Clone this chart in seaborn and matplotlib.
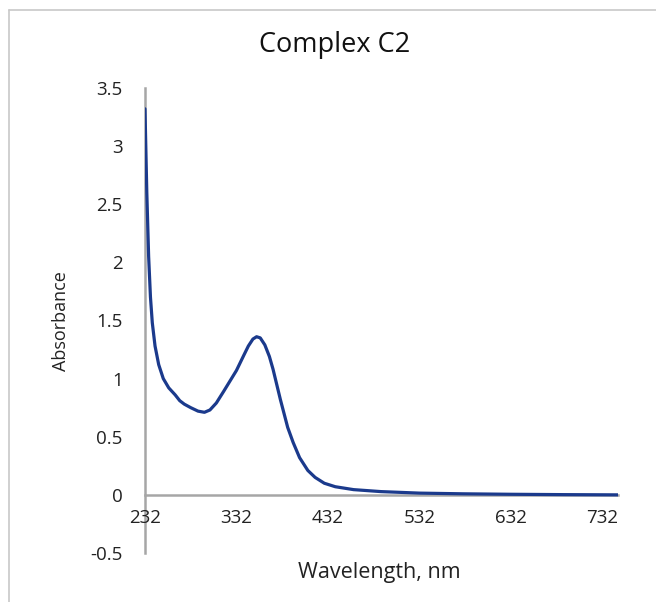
import pandas as pd
import matplotlib.pyplot as plt
import seaborn as sns
from matplotlib.lines import Line2D

# UV-Vis spectrum values
wavelength = [232, 234, 236, 238, 240, 243, 247, 252, 258, 265, 270, 275, 282,
              290, 297, 303, 310, 318, 325, 332, 340, 345, 350, 354, 358, 363,
              368, 372, 376, 380, 384, 388, 394, 401, 410, 418, 428, 440, 460,
              490, 532, 580, 632, 690, 749]
absorbance = [3.32, 2.60, 2.05, 1.70, 1.48, 1.28, 1.12, 1.00, 0.92, 0.86, 0.81,
              0.78, 0.75, 0.72, 0.71, 0.73, 0.79, 0.89, 0.98, 1.07, 1.20, 1.28,
              1.34, 1.36, 1.35, 1.29, 1.19, 1.08, 0.95, 0.82, 0.70, 0.58, 0.45,
              0.32, 0.21, 0.15, 0.10, 0.07, 0.045, 0.028, 0.015, 0.009, 0.005,
              0.002, 0.0]
x_ticks = [232, 332, 432, 532, 632, 732]
y_ticks = [-0.5, 0, 0.5, 1, 1.5, 2, 2.5, 3, 3.5]
y_labels = ['-0.5', '0', '0.5', '1', '1.5', '2', '2.5', '3', '3.5']

df = pd.DataFrame({'Wavelength': wavelength, 'Absorbance': absorbance})

sns.set_style('white')
plt.rcParams['font.family'] = ['Open Sans', 'DejaVu Sans']

fig = plt.figure(figsize=(6.56, 6.02), dpi=100)
ax = fig.add_axes([0.221, 0.0814, 0.721, 0.7726])

sns.lineplot(data=df, x='Wavelength', y='Absorbance', ax=ax,
             color='#1b3a8c', linewidth=2.3)

ax.set_xlim(232, 749)
ax.set_ylim(-0.5, 3.5)
ax.set_xticks(x_ticks)
ax.set_yticks(y_ticks)
ax.set_yticklabels(y_labels)
ax.tick_params(axis='both', length=0, labelsize=13.5, colors='#222222')
ax.tick_params(axis='y', pad=16)
ax.tick_params(axis='x', pad=10)

for s in ['top', 'right']:
    ax.spines[s].set_visible(False)
ax.spines['bottom'].set_position(('data', 0))
ax.spines['left'].set_color('#a6a6a6')
ax.spines['bottom'].set_color('#a6a6a6')
ax.spines['left'].set_linewidth(1.8)
ax.spines['bottom'].set_linewidth(1.8)
ax.spines['left'].set_zorder(0)
ax.spines['bottom'].set_zorder(0)

ax.set_xlabel('')
ax.set_ylabel('')
fig.text(0.578, 0.049, 'Wavelength, nm', ha='center', va='center',
         fontsize=15.5, color='#222222')
fig.text(0.093, 0.467, 'Absorbance', ha='center', va='center',
         rotation=90, fontsize=13, color='#222222')
fig.text(0.51, 0.925, 'Complex C2', ha='center', va='center',
         fontsize=19.5, color='#111111')

# outer chart frame (left and top edges visible in the reference)
fig.add_artist(Line2D([0.014, 0.014], [0.0, 0.983], transform=fig.transFigure,
                      color='#c8c8c8', linewidth=1.2))
fig.add_artist(Line2D([0.014, 1.0], [0.983, 0.983], transform=fig.transFigure,
                      color='#c8c8c8', linewidth=1.2))

plt.savefig('out.png', dpi=100)
